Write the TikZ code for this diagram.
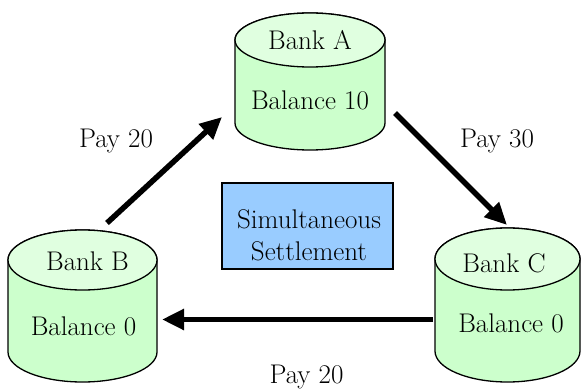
\documentclass[tikz,border=0pt]{standalone}
\usetikzlibrary{arrows.meta}
\definecolor{cylbody}{RGB}{204,255,204}
\definecolor{cyltop}{RGB}{224,255,224}
\definecolor{setblue}{RGB}{153,204,255}
\newcommand{\mycyl}[5]{% cx, rx, ytop, ybottom, ry
  \filldraw[cylline, fill=cylbody] (#1-#2,#3) -- (#1-#2,#4)
    arc[start angle=180, end angle=360, x radius=#2, y radius=#5]
    -- (#1+#2,#3)
    arc[start angle=0, end angle=180, x radius=#2, y radius=#5] -- cycle;
  \filldraw[cylline, fill=cyltop] (#1,#3) ellipse[x radius=#2, y radius=#5];
}
\begin{document}
\begin{tikzpicture}[x=1pt,y=1pt,
  cylline/.style={draw=black, line width=1.3pt},
  lbl/.style={inner sep=0pt, anchor=base, font=\fontsize{27}{32}\selectfont},
  flow/.style={line width=5.5pt, -{Triangle[length=22pt,width=20pt]}},
  settlebox/.style={draw=black, line width=1.3pt, fill=setblue, minimum width=171pt, minimum height=86pt, inner sep=0pt}]
\useasboundingbox (0,0) rectangle (581,389);
% cylinders
\mycyl{310}{75}{349}{266}{27}
\mycyl{82.5}{74.5}{129}{37}{30}
\mycyl{507.5}{72.5}{130}{38}{31}
% bank texts
\node[lbl] (bankA) at (310,339) {Bank A};
\node[lbl] (balA) at (310,279) {Balance 10};
\node[lbl] (bankB) at (87.5,119) {Bank B};
\node[lbl] (balB) at (83.5,54) {Balance 0};
\node[lbl] (bankC) at (504,117) {Bank C};
\node[lbl] (balC) at (511,57) {Balance 0};
% settlement box
\node[settlebox] (settle) at (307.5,163) {};
\node[lbl] (sim) at (309,161) {Simultaneous};
\node[lbl] (setl) at (309,129) {Settlement};
% arrow endpoints
\coordinate (bTail) at (107,166);
\coordinate (aHead) at (222,272);
\coordinate (aTail) at (395,276);
\coordinate (cHead) at (507,164);
\coordinate (cTail) at (433,69.5);
\coordinate (bHead) at (162,69.5);
\draw[flow] (bTail) -- (aHead);
\draw[flow] (aTail) -- (cHead);
\draw[flow] (cTail) -- (bHead);
% labels
\node[lbl] (payBA) at (116,241) {Pay 20};
\node[lbl] (payAC) at (497,242) {Pay 30};
\node[lbl] (payCB) at (306.5,6) {Pay 20};
\end{tikzpicture}
\end{document}
